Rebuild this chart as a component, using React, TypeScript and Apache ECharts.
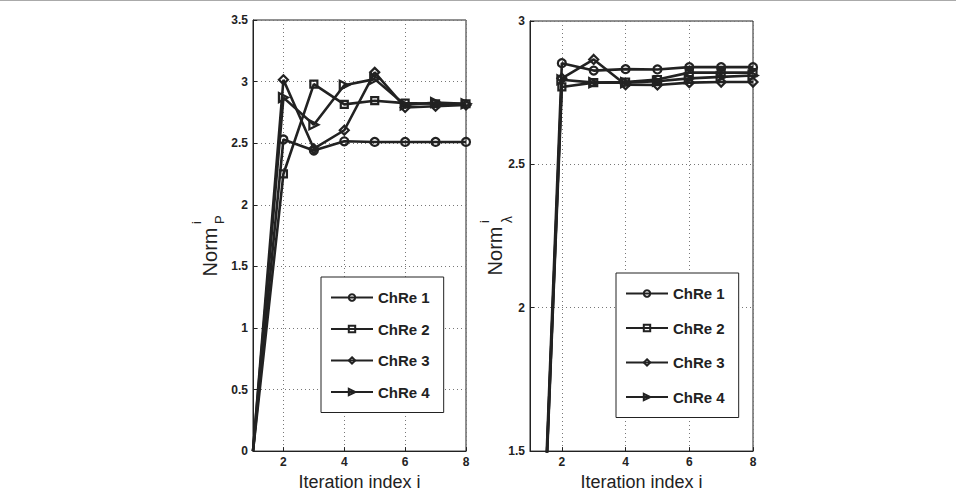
import React, { useEffect, useRef } from "react";
import * as echarts from "echarts";

const iterations = [1, 2, 3, 4, 5, 6, 7, 8];
const seriesNames = ["ChRe 1", "ChRe 2", "ChRe 3", "ChRe 4"];
const xTickValues = [2, 4, 6, 8];

// Left panel: Norm_P
const normP1 = [0, 2.53, 2.44, 2.515, 2.51, 2.51, 2.51, 2.51];
const normP2 = [0, 2.25, 2.98, 2.815, 2.845, 2.825, 2.82, 2.82];
const normP3 = [0, 3.015, 2.455, 2.605, 3.075, 2.79, 2.8, 2.81];
const normP4 = [0, 2.87, 2.65, 2.97, 3.02, 2.81, 2.83, 2.82];

// Right panel: Norm_lambda
const normL1 = [0, 2.853, 2.827, 2.832, 2.831, 2.839, 2.839, 2.839];
const normL2 = [0, 2.77, 2.785, 2.787, 2.796, 2.82, 2.82, 2.82];
const normL3 = [0, 2.8, 2.866, 2.778, 2.777, 2.785, 2.787, 2.787];
const normL4 = [0, 2.795, 2.785, 2.785, 2.79, 2.8, 2.805, 2.81];

const symbols = ["circle", "rect", "diamond", "triangle"];
const symbolRotations = [0, 0, 0, -90];
const symbolSizes = [8, 7, 9, 9];

const FONT = '"Liberation Sans", Arial, Helvetica, sans-serif';
const INK = "#222";

export default function App() {
  const ref = useRef<HTMLDivElement>(null);

  useEffect(() => {
    if (!ref.current) return;
    const chart = echarts.init(ref.current, undefined, { renderer: "svg" });

    const pairs = (vals: number[]) =>
      iterations.map((x, i) =>
        i === 0 ? { value: [x, vals[i]], symbol: "none" } : { value: [x, vals[i]] }
      );
    const leftSets = [normP1, normP2, normP3, normP4];
    const rightSets = [normL1, normL2, normL3, normL4];

    const mkSeries = (vals: number[], k: number, gi: number) => ({
      type: "line",
      name: seriesNames[k],
      xAxisIndex: gi,
      yAxisIndex: gi,
      data: pairs(vals),
      symbol: symbols[k],
      symbolRotate: symbolRotations[k],
      symbolSize: symbolSizes[k],
      showAllSymbol: true,
      clip: true,
      lineStyle: { color: INK, width: 2.6 },
      itemStyle: { color: "transparent", borderColor: INK, borderWidth: 2.2 },
      emphasis: { disabled: true },
      z: 3,
    });

    const xAxisBase = (gi: number) => ({
      type: "value",
      gridIndex: gi,
      min: 1,
      max: 8,
      name: "Iteration index i",
      nameLocation: "middle",
      nameGap: 15,
      nameTextStyle: { fontFamily: FONT, fontSize: 18, color: INK },
      axisLine: { show: true, lineStyle: { color: INK, width: 1 } },
      axisTick: { show: true, inside: true, length: 4, customValues: xTickValues, lineStyle: { color: INK } },
      axisLabel: {
        customValues: xTickValues,
        margin: 5,
        fontFamily: FONT,
        fontSize: 12,
        fontWeight: "bold",
        color: INK,
      },
      splitLine: { show: true, lineStyle: { color: "#777", type: [1, 3], width: 1 } },
    });

    const yAxisBase = (gi: number, min: number, max: number) => ({
      type: "value",
      gridIndex: gi,
      min,
      max,
      interval: 0.5,
      axisLine: { show: true, lineStyle: { color: INK, width: 1 } },
      axisTick: { show: true, inside: true, length: 4, lineStyle: { color: INK } },
      axisLabel: {
        margin: 5,
        fontFamily: FONT,
        fontSize: 12,
        fontWeight: "bold",
        color: INK,
      },
      splitLine: { show: true, lineStyle: { color: "#777", type: [1, 3], width: 1 } },
    });

    const legendBase = (left: number, top: number, gap: number) => ({
      show: true,
      data: seriesNames,
      orient: "vertical",
      left,
      top,
      itemWidth: 42,
      itemHeight: 8,
      itemGap: gap,
      padding: [13, 14, 13, 9],
      borderColor: INK,
      borderWidth: 1,
      backgroundColor: "#fff",
      selectedMode: false,
      textStyle: { fontFamily: FONT, fontSize: 15, fontWeight: "bold", color: INK },
    });

    const labelStyle = (size: number) => ({ font: `${size}px ${FONT}`, fill: INK });

    chart.setOption({
      animation: false,
      backgroundColor: "#fff",
      grid: [
        { left: 253, top: 20, width: 213, height: 441, show: true, borderColor: INK, borderWidth: 1, backgroundColor: "transparent" },
        { left: 530, top: 21, width: 223, height: 440, show: true, borderColor: INK, borderWidth: 1, backgroundColor: "transparent" },
      ],
      xAxis: [xAxisBase(0), xAxisBase(1)],
      yAxis: [yAxisBase(0, 0, 3.5), yAxisBase(1, 1.5, 3)],
      legend: [legendBase(321, 277, 16.5), legendBase(616, 273, 19.5)],
      series: [
        ...leftSets.map((v, k) => mkSeries(v, k, 0)),
        ...rightSets.map((v, k) => mkSeries(v, k, 1)),
      ],
      graphic: [
        { type: "rect", shape: { x: 0, y: 0, width: 956, height: 1 }, style: { fill: "#aaa" } },
        {
          type: "group",
          x: 210,
          y: 252,
          rotation: Math.PI / 2,
          children: [
            { type: "text", x: 0, y: 0, style: { text: "Norm", ...labelStyle(20), align: "center", verticalAlign: "middle" } },
            { type: "text", x: 28, y: -14, style: { text: "i", ...labelStyle(13), align: "left", verticalAlign: "middle" } },
            { type: "text", x: 28, y: 9, style: { text: "P", ...labelStyle(13), align: "left", verticalAlign: "middle" } },
          ],
        },
        {
          type: "group",
          x: 495,
          y: 251,
          rotation: Math.PI / 2,
          children: [
            { type: "text", x: 0, y: 0, style: { text: "Norm", ...labelStyle(20), align: "center", verticalAlign: "middle" } },
            { type: "text", x: 28, y: -11, style: { text: "i", ...labelStyle(13), align: "left", verticalAlign: "middle" } },
            { type: "text", x: 28, y: 12, style: { text: "λ", ...labelStyle(14), align: "left", verticalAlign: "middle" } },
          ],
        },
      ],
    });

    return () => chart.dispose();
  }, []);

  return (
    <div
      ref={ref}
      style={{ position: "fixed", left: 0, top: 0, width: 956, height: 496 }}
    />
  );
}
